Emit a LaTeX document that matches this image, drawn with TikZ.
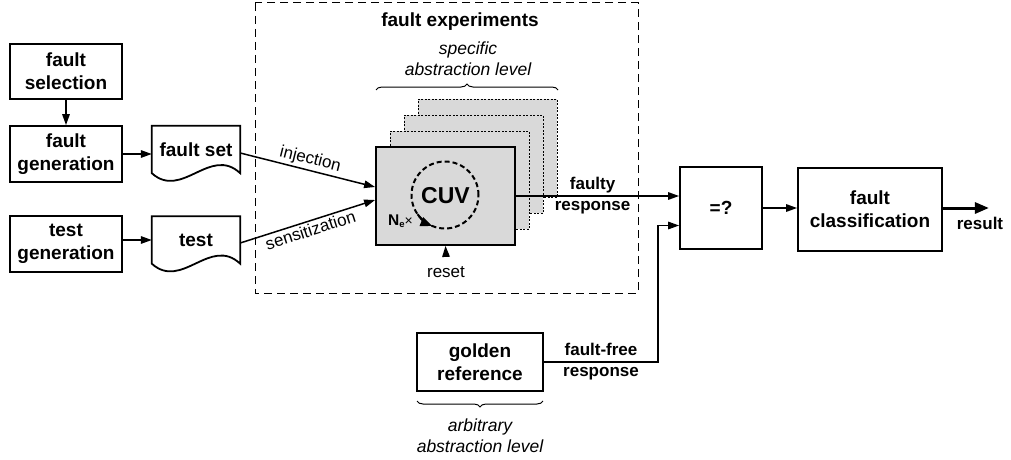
\documentclass[tikz,border=0pt]{standalone}
\usepackage{fontspec}
\setmainfont{Liberation Sans}
\usetikzlibrary{arrows.meta,decorations.pathreplacing,calc}

\begin{document}
\begin{tikzpicture}[x=1pt,y=-1pt,
  box/.style={draw, line width=1.8pt, align=center, inner sep=0pt,
    font=\fontsize{19}{23}\selectfont\bfseries},
  docbox/.style={inner sep=0pt, align=center,
    font=\fontsize{19}{23}\selectfont\bfseries},
  docline/.style={line width=1.8pt, line join=miter},
  arr/.style={line width=1.5pt, -{Triangle[length=11pt,width=7.5pt]}},
  bigarr/.style={line width=3pt, -{Triangle[length=14pt,width=11pt]}},
  lbl/.style={font=\fontsize{17}{21}\selectfont, inner sep=1pt},
  blbl/.style={font=\fontsize{17}{21}\selectfont\bfseries, align=center, inner sep=0pt},
  ilbl/.style={font=\fontsize{17.5}{21}\selectfont\itshape, align=center, inner sep=0pt},
  layer/.style={draw, fill=gray!30, line width=1pt, dash pattern=on 2pt off 1.5pt,
    minimum width=139, minimum height=98, inner sep=0pt},
  bracestyle/.style={line width=1pt, decorate, decoration={brace, amplitude=6pt}},
]
\useasboundingbox (0,0) rectangle (1011,460);

% fault injection environment frame
\draw[line width=1pt, dash pattern=on 8pt off 5pt] (255,3) rectangle (638,293);
\node[font=\fontsize{19}{23}\selectfont\bfseries] (fe) at (460,22) {fault experiments};

% left column: fault and test preparation
\node[box, minimum width=112, minimum height=55] (sel) at (66,71.5) {fault\\selection};
\node[box, minimum width=112, minimum height=56] (gen) at (66,154) {fault\\generation};
\node[box, minimum width=112, minimum height=56] (tgen) at (66,244) {test\\generation};

% document shapes
\node[docbox, minimum width=88, minimum height=47] (fs) at (196,149.5) {fault set};
\node[docbox, minimum width=88, minimum height=47] (ts) at (196,240) {test};
\foreach \d in {fs,ts}{
  \draw[docline] (\d.south west) -- (\d.north west) -- (\d.north east) -- (\d.south east)
    .. controls ($(\d.south east)+(-30,-28)$) and ($(\d.south west)+(30,27)$) .. cycle;
}

% stacked circuit models
\node[layer] (l3) at (487.5,148) {};
\node[layer] (l2) at (473.5,164) {};
\node[layer] (l1) at (459.5,180) {};
\node[draw, fill=gray!30, line width=1.8pt, minimum width=139, minimum height=98,
  inner sep=0pt, font=\fontsize{23}{27}\selectfont\bfseries] (uut) at (445.5,196) {CUV};
\node[circle, draw, line width=2pt, dash pattern=on 5pt off 3pt, minimum size=67,
  inner sep=0pt] (loop) at (445,195) {};
\draw[line width=2pt, -{Triangle[length=12pt,width=9pt]}]
  ($(loop.center)+(145:33.5)$) arc[start angle=145, end angle=112, radius=33.5];
\node[font=\fontsize{14}{16}\selectfont, inner sep=0pt] (ne) at (400.5,221)
  {{\fontsize{15.5}{16}\selectfont\bfseries N}\raisebox{-1.5pt}{\fontsize{9.5}{10}\selectfont\bfseries e}×};

% braces and abstraction levels
\draw[bracestyle] (376,90) -- (558,90);
\node[ilbl] (spec) at (468,59) {specific\\abstraction level};

% comparison and classification
\node[box, minimum width=82, minimum height=82] (cmp) at (721,208) {=?};
\node[box, minimum width=144, minimum height=83] (cls) at (870,209.5) {fault\\classification};
\node[box, minimum width=126, minimum height=58] (gold) at (480,362) {golden\\reference};
\draw[bracestyle] (543,401) -- (417,401);
\node[ilbl] (arb) at (480,436) {arbitrary\\abstraction level};

% connectors
\draw[arr] (sel.south) -- (gen.north);
\draw[arr] (gen.east) -- (gen.east -| fs.west);
\draw[arr] (ts.west -| tgen.east) -- (ts.west);
\draw[arr] ($(fs.east)+(0,3.5)$) -- node[lbl, sloped, above=1pt] {injection} ($(uut.west)+(0,-9)$);
\draw[arr] ($(ts.east)+(0,3)$) -- node[lbl, sloped, below=1pt] {sensitization} ($(uut.west)+(0,4)$);

\node[lbl, inner sep=0pt] (rst) at (446,272) {reset};
\draw[arr] ($(rst.north)+(0,-10)$) -- (uut.south);

\draw[arr] (uut.east) -- node[blbl, pos=0.47] {faulty\\response} (uut.east -| cmp.west);
\coordinate (bend) at ($(cmp.west)+(-21,0)$);
\draw[arr] (gold.east) -- node[blbl] {fault-free\\response} (gold.east -| bend)
  |- ($(cmp.west)+(0,17.5)$);
\draw[arr] (cmp.east) -- (cmp.east -| cls.west);
\coordinate (resend) at ($(cls.east)+(46,-1.5)$);
\draw[bigarr] ($(cls.east)+(0,-1.5)$) -- (resend);
\node[blbl] (res) at (980,223) {result};
\end{tikzpicture}
\end{document}
